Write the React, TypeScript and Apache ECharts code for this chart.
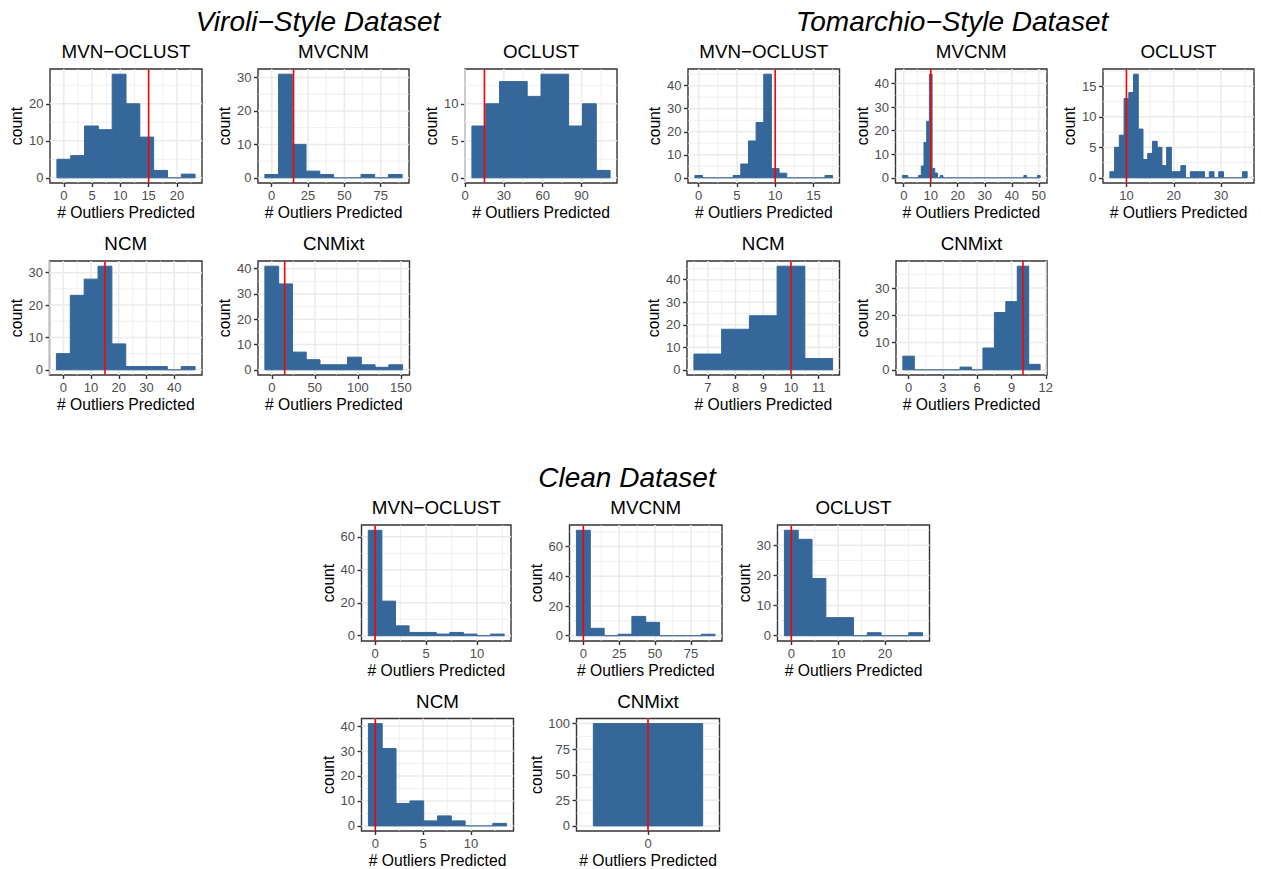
import React, { useEffect, useRef } from "react";
import * as echarts from "echarts";

const FONT = '"Liberation Sans", Arial, Helvetica, sans-serif';
const BAR_COLOR = "#35679A";
const TRUTH_COLOR = "#FF0000";

// ---------------- texts ----------------
const datasetTitles = ["Viroli\u2212Style Dataset", "Tomarchio\u2212Style Dataset", "Clean Dataset"];
const methodTitles = ["MVN\u2212OCLUST", "MVCNM", "OCLUST", "NCM", "CNMixt"];
const xTitle = "# Outliers Predicted";
const yTitle = "count";

// true number of outliers (red line), per dataset
const trueOutliers = [15, 10, 0];

// ---------------- histogram data ----------------
// bins: [centre of first bin, bin width]; counts: one per bin
const viroliMvnOclustBins = [0, 2.444];
const viroliMvnOclustCounts = [5, 6, 14, 13, 28, 20, 11, 2, 0, 1];
const viroliMvcnmBins = [0, 9.444];
const viroliMvcnmCounts = [1, 31, 10, 2, 1, 0, 0, 1, 0, 1];
const viroliOclustBins = [10.667, 10.667];
const viroliOclustCounts = [7, 10, 13, 13, 11, 14, 14, 7, 10, 1];
const viroliNcmBins = [0, 5];
const viroliNcmCounts = [5, 23, 28, 32, 8, 1, 1, 1, 0, 1];
const viroliCnmixtBins = [0, 16];
const viroliCnmixtCounts = [41, 34, 7, 4, 2, 2, 5, 2, 1, 2];

const tomarchioMvnOclustBins = [0, 1];
const tomarchioMvnOclustCounts = [1, 0, 0, 0, 0, 1, 6, 16, 24, 45, 4, 2, 0, 0, 0, 0, 0, 1];
const tomarchioMvcnmBins = [0, 1];
const tomarchioMvcnmCounts = [
  1, 1, 0, 0, 0, 0, 1, 5, 15, 24, 44, 4, 2, 0, 1,
  0, 0, 0, 0, 0, 0, 0, 0, 0, 0,
  0, 0, 0, 0, 0, 0, 0, 0, 0, 0,
  0, 0, 0, 0, 0, 0, 0, 0, 0, 0,
  1, 0, 0, 0, 0, 1,
];
const tomarchioOclustBins = [7, 1];
const tomarchioOclustCounts = [1, 5, 7, 13, 14, 17, 8, 3, 4, 6, 5, 2, 5, 1, 1, 2, 0, 1, 1, 1, 0, 1, 0, 1, 0, 0, 0, 0, 1];
const tomarchioNcmBins = [7, 1];
const tomarchioNcmCounts = [7, 18, 24, 46, 5];
const tomarchioCnmixtBins = [0, 1];
const tomarchioCnmixtCounts = [5, 0, 0, 0, 0, 1, 0, 8, 21, 25, 38, 2];

const cleanMvnOclustBins = [0, 1.333];
const cleanMvnOclustCounts = [64, 21, 6, 2, 2, 1, 2, 1, 0, 1];
const cleanMvcnmBins = [0, 9.667];
const cleanMvcnmCounts = [71, 5, 0, 1, 13, 9, 0, 0, 0, 1];
const cleanOclustBins = [0, 2.95];
const cleanOclustCounts = [35, 32, 19, 6, 6, 0, 1, 0, 0, 1];
const cleanNcmBins = [0, 1.444];
const cleanNcmCounts = [41, 31, 9, 10, 2, 4, 2, 0, 0, 1];
const cleanCnmixtBins = [0, 1];
const cleanCnmixtCounts = [100];

// ---------------- tick values ----------------
const viroliMvnOclustXTicks = [0, 5, 10, 15, 20];
const viroliMvnOclustYTicks = [0, 10, 20];
const viroliMvcnmXTicks = [0, 25, 50, 75];
const viroliMvcnmYTicks = [0, 10, 20, 30];
const viroliOclustXTicks = [0, 30, 60, 90];
const viroliOclustYTicks = [0, 5, 10];
const viroliNcmXTicks = [0, 10, 20, 30, 40];
const viroliNcmYTicks = [0, 10, 20, 30];
const viroliCnmixtXTicks = [0, 50, 100, 150];
const viroliCnmixtYTicks = [0, 10, 20, 30, 40];

const tomarchioMvnOclustXTicks = [0, 5, 10, 15];
const tomarchioMvnOclustYTicks = [0, 10, 20, 30, 40];
const tomarchioMvcnmXTicks = [0, 10, 20, 30, 40, 50];
const tomarchioMvcnmYTicks = [0, 10, 20, 30, 40];
const tomarchioOclustXTicks = [10, 20, 30];
const tomarchioOclustYTicks = [0, 5, 10, 15];
const tomarchioNcmXTicks = [7, 8, 9, 10, 11];
const tomarchioNcmYTicks = [0, 10, 20, 30, 40];
const tomarchioCnmixtXTicks = [0, 3, 6, 9, 12];
const tomarchioCnmixtYTicks = [0, 10, 20, 30];

const cleanMvnOclustXTicks = [0, 5, 10];
const cleanMvnOclustYTicks = [0, 20, 40, 60];
const cleanMvcnmXTicks = [0, 25, 50, 75];
const cleanMvcnmYTicks = [0, 20, 40, 60];
const cleanOclustXTicks = [0, 10, 20];
const cleanOclustYTicks = [0, 10, 20, 30];
const cleanNcmXTicks = [0, 5, 10];
const cleanNcmYTicks = [0, 10, 20, 30, 40];
const cleanCnmixtXTicks = [0];
const cleanCnmixtYTicks = [0, 25, 50, 75, 100];

type Panel = {
  dataset: number;
  method: number;
  bins: number[];
  counts: number[];
  xTicks: number[];
  yTicks: number[];
};

const panels: Panel[] = [
  { dataset: 0, method: 0, bins: viroliMvnOclustBins, counts: viroliMvnOclustCounts, xTicks: viroliMvnOclustXTicks, yTicks: viroliMvnOclustYTicks },
  { dataset: 0, method: 1, bins: viroliMvcnmBins, counts: viroliMvcnmCounts, xTicks: viroliMvcnmXTicks, yTicks: viroliMvcnmYTicks },
  { dataset: 0, method: 2, bins: viroliOclustBins, counts: viroliOclustCounts, xTicks: viroliOclustXTicks, yTicks: viroliOclustYTicks },
  { dataset: 0, method: 3, bins: viroliNcmBins, counts: viroliNcmCounts, xTicks: viroliNcmXTicks, yTicks: viroliNcmYTicks },
  { dataset: 0, method: 4, bins: viroliCnmixtBins, counts: viroliCnmixtCounts, xTicks: viroliCnmixtXTicks, yTicks: viroliCnmixtYTicks },
  { dataset: 1, method: 0, bins: tomarchioMvnOclustBins, counts: tomarchioMvnOclustCounts, xTicks: tomarchioMvnOclustXTicks, yTicks: tomarchioMvnOclustYTicks },
  { dataset: 1, method: 1, bins: tomarchioMvcnmBins, counts: tomarchioMvcnmCounts, xTicks: tomarchioMvcnmXTicks, yTicks: tomarchioMvcnmYTicks },
  { dataset: 1, method: 2, bins: tomarchioOclustBins, counts: tomarchioOclustCounts, xTicks: tomarchioOclustXTicks, yTicks: tomarchioOclustYTicks },
  { dataset: 1, method: 3, bins: tomarchioNcmBins, counts: tomarchioNcmCounts, xTicks: tomarchioNcmXTicks, yTicks: tomarchioNcmYTicks },
  { dataset: 1, method: 4, bins: tomarchioCnmixtBins, counts: tomarchioCnmixtCounts, xTicks: tomarchioCnmixtXTicks, yTicks: tomarchioCnmixtYTicks },
  { dataset: 2, method: 0, bins: cleanMvnOclustBins, counts: cleanMvnOclustCounts, xTicks: cleanMvnOclustXTicks, yTicks: cleanMvnOclustYTicks },
  { dataset: 2, method: 1, bins: cleanMvcnmBins, counts: cleanMvcnmCounts, xTicks: cleanMvcnmXTicks, yTicks: cleanMvcnmYTicks },
  { dataset: 2, method: 2, bins: cleanOclustBins, counts: cleanOclustCounts, xTicks: cleanOclustXTicks, yTicks: cleanOclustYTicks },
  { dataset: 2, method: 3, bins: cleanNcmBins, counts: cleanNcmCounts, xTicks: cleanNcmXTicks, yTicks: cleanNcmYTicks },
  { dataset: 2, method: 4, bins: cleanCnmixtBins, counts: cleanCnmixtCounts, xTicks: cleanCnmixtXTicks, yTicks: cleanCnmixtYTicks },
];

// ---------------- layout (pixels) ----------------
// [left, top, right, bottom] of each panel, same order as panels
const panelBoxes = [
  [50, 69, 202, 183],
  [258, 69, 409, 183],
  [465, 69, 617, 183],
  [49.5, 261, 202, 375],
  [258, 261, 409.5, 375],
  [688, 69, 839.5, 183],
  [895.5, 69, 1047, 183],
  [1103, 69, 1254, 183],
  [687, 261, 839.5, 375],
  [896, 261, 1047, 375],
  [361.5, 525, 511, 641],
  [569.5, 525, 722, 641],
  [777.5, 525, 929.5, 641],
  [361.5, 718.5, 513.5, 831],
  [576.5, 718.5, 719.5, 831],
];
// horizontal expansion of the x scale, as a fraction of the binned range
const xExpand = [0.05, 0.05, 0.05, 0.05, 0.05, 0.05, 0.05, 0.05, 0.05, 0.05, 0.05, 0.05, 0.05, 0.05, 0.154];
const datasetTitleCenters = [
  [318, 21],
  [952, 21],
  [627, 477],
];

function minorValues(ticks: number[], lo: number, hi: number): number[] {
  if (ticks.length < 2) return [];
  const s = ticks[1] - ticks[0];
  const out: number[] = [];
  for (let k = -1; k < ticks.length; k++) {
    const v = ticks[0] + (k + 0.5) * s;
    if (v >= lo && v <= hi) out.push(v);
  }
  return out;
}

const gridRender = (params: any, api: any) => {
  const v = api.value(0);
  const dir = api.value(1);
  const major = api.value(2);
  const cs = params.coordSys;
  const style = { stroke: "#EBEBEB", lineWidth: major ? 1.5 : 0.75 };
  if (dir === 0) {
    const x = api.coord([v, 0])[0];
    return { type: "line", shape: { x1: x, y1: cs.y, x2: x, y2: cs.y + cs.height }, style };
  }
  const y = api.coord([0, v])[1];
  return { type: "line", shape: { x1: cs.x, y1: y, x2: cs.x + cs.width, y2: y }, style };
};

const barRender = (params: any, api: any) => {
  const x0 = api.value(0);
  const x1 = api.value(1);
  const c = api.value(2);
  const a = api.coord([x0, 0]);
  const b = api.coord([x1, c]);
  const h = a[1] - b[1];
  if (c === 0) {
    return {
      type: "rect",
      shape: { x: a[0], y: a[1] - 0.6, width: b[0] - a[0], height: 1.2 },
      style: { fill: BAR_COLOR },
    };
  }
  return {
    type: "rect",
    shape: { x: a[0], y: b[1], width: b[0] - a[0], height: h },
    style: { fill: BAR_COLOR, stroke: BAR_COLOR, lineWidth: 1 },
  };
};

const truthRender = (params: any, api: any) => {
  const x = api.coord([api.value(0), 0])[0];
  const cs = params.coordSys;
  return {
    type: "line",
    shape: { x1: x, y1: cs.y, x2: x, y2: cs.y + cs.height },
    style: { stroke: TRUTH_COLOR, lineWidth: 1.6 },
  };
};

function buildOption() {
  const grid: any[] = [];
  const xAxis: any[] = [];
  const yAxis: any[] = [];
  const series: any[] = [];
  const graphic: any[] = [];

  datasetTitles.forEach((t, d) => {
    graphic.push({
      type: "text",
      x: datasetTitleCenters[d][0],
      y: datasetTitleCenters[d][1],
      silent: true,
      style: {
        text: t,
        fill: "#000000",
        fontSize: 28,
        fontStyle: "italic",
        fontFamily: FONT,
        align: "center",
        verticalAlign: "middle",
      },
    });
  });

  panels.forEach((p, i) => {
    const [l, t, r, b] = panelBoxes[i];
    grid.push({
      left: l,
      top: t,
      width: r - l,
      height: b - t,
      show: true,
      backgroundColor: "#FFFFFF",
      borderColor: "#333333",
      borderWidth: 1.4,
      containLabel: false,
      outerBoundsMode: "none",
    });

    const [c0, w] = p.bins;
    const lo = c0 - w / 2;
    const hi = c0 + (p.counts.length - 0.5) * w;
    const pad = xExpand[i] * (hi - lo);
    const xMin = lo - pad;
    const xMax = hi + pad;
    const cMax = Math.max(...p.counts);
    const yMin = -0.05 * cMax;
    const yMax = 1.05 * cMax;

    const maxLabelLen = Math.max(...p.yTicks.map((v) => String(v).length));

    const tickStyle = { color: "#333333", width: 1.4 };
    xAxis.push({
      gridIndex: i,
      type: "value",
      min: xMin,
      max: xMax,
      axisLine: { show: false, onZero: false },
      axisTick: { show: true, length: 4, customValues: p.xTicks, lineStyle: tickStyle },
      axisLabel: {
        customValues: p.xTicks,
        color: "#4D4D4D",
        fontSize: 13,
        fontFamily: FONT,
        margin: 6,
      },
      splitLine: { show: false },
      name: xTitle,
      nameLocation: "middle",
      nameGap: 21,
      nameTextStyle: { color: "#000000", fontSize: 15.7, fontFamily: FONT },
    });
    yAxis.push({
      gridIndex: i,
      type: "value",
      min: yMin,
      max: yMax,
      axisLine: { show: false, onZero: false },
      axisTick: { show: true, length: 4, customValues: p.yTicks, lineStyle: tickStyle },
      axisLabel: {
        customValues: p.yTicks,
        color: "#4D4D4D",
        fontSize: 13,
        fontFamily: FONT,
        margin: 6.5,
      },
      splitLine: { show: false },
      name: yTitle,
      nameLocation: "middle",
      nameGap: 11.5 + 7 * maxLabelLen,
      nameTextStyle: { color: "#000000", fontSize: 15.7, fontFamily: FONT },
    });

    const gridData: number[][] = [];
    minorValues(p.xTicks, xMin, xMax).forEach((v) => gridData.push([v, 0, 0]));
    minorValues(p.yTicks, yMin, yMax).forEach((v) => gridData.push([v, 1, 0]));
    p.xTicks.forEach((v) => gridData.push([v, 0, 1]));
    p.yTicks.forEach((v) => gridData.push([v, 1, 1]));

    series.push({
      type: "custom",
      xAxisIndex: i,
      yAxisIndex: i,
      z: 1,
      silent: true,
      data: gridData,
      renderItem: gridRender,
    });
    series.push({
      type: "custom",
      xAxisIndex: i,
      yAxisIndex: i,
      z: 2,
      silent: true,
      data: p.counts.map((c, k) => [c0 + (k - 0.5) * w, c0 + (k + 0.5) * w, c]),
      renderItem: barRender,
    });
    series.push({
      type: "custom",
      xAxisIndex: i,
      yAxisIndex: i,
      z: 3,
      silent: true,
      data: [[trueOutliers[p.dataset], 0]],
      renderItem: truthRender,
    });

    graphic.push({
      type: "text",
      x: (l + r) / 2,
      y: t - 17.5,
      silent: true,
      style: {
        text: methodTitles[p.method],
        fill: "#000000",
        fontSize: 18.8,
        fontFamily: FONT,
        align: "center",
        verticalAlign: "middle",
      },
    });
  });

  return {
    animation: false,
    backgroundColor: "#FFFFFF",
    textStyle: { fontFamily: FONT },
    grid,
    xAxis,
    yAxis,
    series,
    graphic,
  };
}

export default function App() {
  const ref = useRef<HTMLDivElement>(null);
  useEffect(() => {
    if (!ref.current) return;
    const chart = echarts.init(ref.current, undefined, { renderer: "svg" });
    chart.setOption(buildOption() as any);
    return () => {
      chart.dispose();
    };
  }, []);
  return (
    <div
      ref={ref}
      style={{ position: "absolute", left: 0, top: 0, width: 1261, height: 869, background: "#FFFFFF" }}
    />
  );
}
